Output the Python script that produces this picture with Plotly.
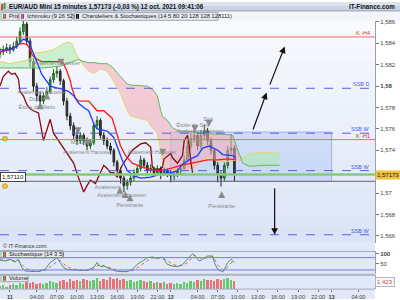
import numpy as np
import pandas as pd
import plotly.graph_objects as go

BASE = pd.Timestamp("2021-10-11 00:00")

# ---------------- data ----------------
candle_time = pd.date_range("2021-10-10 22:30", periods=71, freq="30min")
opens = [1.5830,1.5832,1.5834,1.5836,1.5834,1.5837,1.5842,1.5851,1.5858,1.5842,
         1.5823,1.5800,1.5791,1.5786,1.5791,1.5795,1.5806,1.5812,1.5814,1.5805,
         1.5786,1.5772,1.5763,1.5754,1.5749,1.5754,1.5749,1.5744,1.5747,1.5763,
         1.5768,1.5754,1.5749,1.5744,1.5740,1.5729,1.5721,1.5714,1.5707,1.5710,
         1.5714,1.5719,1.5723,1.5731,1.5726,1.5721,1.5723,1.5719,1.5723,1.5719,
         1.5721,1.5719,1.5716,1.5718,1.5721,1.5723,1.5731,1.5744,1.5751,1.5754,
         1.5744,1.5754,1.5758,1.5749,1.5740,1.5726,1.5717,1.5714,1.5726,1.5740,
         1.5742]
closes = [1.5832,1.5834,1.5836,1.5834,1.5837,1.5842,1.5851,1.5858,1.5842,1.5823,
          1.5800,1.5791,1.5786,1.5791,1.5795,1.5806,1.5812,1.5814,1.5805,1.5786,
          1.5772,1.5763,1.5754,1.5749,1.5754,1.5749,1.5744,1.5747,1.5763,1.5768,
          1.5754,1.5749,1.5744,1.5740,1.5729,1.5721,1.5714,1.5707,1.5710,1.5714,
          1.5719,1.5723,1.5731,1.5726,1.5721,1.5723,1.5719,1.5723,1.5719,1.5721,
          1.5719,1.5716,1.5718,1.5721,1.5723,1.5731,1.5744,1.5751,1.5754,1.5744,
          1.5754,1.5758,1.5749,1.5740,1.5726,1.5717,1.5714,1.5726,1.5740,1.5742,
          1.57173]
highs = [1.5836,1.5838,1.5840,1.5839,1.5841,1.5846,1.5855,1.5863,1.5860,1.5845,
         1.5826,1.5803,1.5795,1.5794,1.5799,1.5809,1.5816,1.5818,1.5816,1.5807,
         1.5789,1.5775,1.5766,1.5758,1.5757,1.5756,1.5752,1.5750,1.5766,1.5772,
         1.5770,1.5757,1.5752,1.5747,1.5742,1.5731,1.5724,1.5716,1.5713,1.5717,
         1.5722,1.5726,1.5735,1.5733,1.5729,1.5727,1.5725,1.5726,1.5725,1.5724,
         1.5723,1.5722,1.5721,1.5724,1.5727,1.5735,1.5748,1.5756,1.5760,1.5757,
         1.5759,1.5764,1.5761,1.5752,1.5742,1.5729,1.5720,1.5729,1.5744,1.5755,
         1.5745]
lows = [1.5826,1.5829,1.5831,1.5830,1.5832,1.5835,1.5840,1.5848,1.5838,1.5818,
        1.5795,1.5786,1.5781,1.5783,1.5788,1.5793,1.5803,1.5808,1.5801,1.5782,
        1.5768,1.5759,1.5750,1.5745,1.5746,1.5745,1.5740,1.5741,1.5745,1.5760,
        1.5751,1.5745,1.5741,1.5736,1.5725,1.5717,1.5709,1.5701,1.5703,1.5707,
        1.5711,1.5716,1.5720,1.5723,1.5718,1.5719,1.5715,1.5717,1.5713,1.5716,
        1.5715,1.5710,1.5712,1.5715,1.5718,1.5721,1.5729,1.5741,1.5747,1.5740,
        1.5741,1.5750,1.5745,1.5736,1.5722,1.5710,1.5706,1.5711,1.5723,1.5736,
        1.5711]
volumes = [520,700,380,690,880,720,1060,900,1240,1050,
           1230,880,1060,900,1070,1400,1250,1080,1420,1600,
           1250,1780,1420,1610,1430,1780,1600,1420,1590,1960,
           1430,1770,1600,2140,1780,1950,1600,1780,1420,1600,
           1250,1420,1600,1430,1250,1420,1070,1250,1060,1250,
           900,1070,880,1070,890,1250,1060,1420,1250,1600,
           1430,1780,1600,1610,1420,1780,1600,1770,1960,1600,
           1423]

# Ichimoku (hours since 11 oct 00:00, price)
tenkan_h = [-1.5,0,1.0,2.0,2.75,3.25,4.0,4.75,6.0,7.25,8.0,8.75,9.5,10.25,11.0,11.75,12.5,13.0,14.5,15.5,
            16.0,16.75,17.5,18.5,19.5,21.0,22.5,24.0,25.0,25.75,27.0,28.0,28.75,29.75,31.0,31.75,33.25,33.75]
tenkan = [1.5834,1.5834,1.5837,1.5844,1.5842,1.5835,1.5823,1.5811,1.5800,1.5798,1.5797,1.5795,1.5791,1.5784,
          1.5780,1.5777,1.5765,1.5760,1.5758,1.5752,1.5744,1.5731,1.5721,1.5716,1.5714,1.5715,1.5718,1.5719,
          1.5721,1.5727,1.5732,1.5735,1.5742,1.5744,1.5740,1.5736,1.5735,1.5733]
kijun_h = [-1.5,0.5,1.25,2.0,2.5,3.0,3.25,3.75,4.75,7.5,8.0,8.5,9.0,9.25,9.75,10.25,11.75,12.5,13.0,14.0,
           14.5,15.25,15.5,16.0,16.5,17.25,18.25,19.5,21.0,22.5,24.0,25.5,27.25,29.5,31.0,32.5,33.75]
kijun = [1.5832,1.5835,1.5839,1.5840,1.5839,1.5835,1.5830,1.5826,1.5823,1.5823,1.5821,1.5814,1.5805,1.5798,
         1.5789,1.5786,1.5786,1.5780,1.5777,1.5777,1.5774,1.5770,1.5765,1.5754,1.5744,1.5735,1.5728,1.5725,
         1.5722,1.5721,1.5723,1.5726,1.5728,1.5731,1.5731,1.5732,1.5731]
chikou_h = [-1.5,-1.0,-0.25,0.25,0.75,1.25,1.5,2.0,2.5,3.0,3.5,4.25,5.0,5.5,6.0,6.5,7.25,8.0,8.75,9.5,
            10.25,11.0,11.5,12.0,12.75,13.5,14.0,14.5,15.0,15.5,16.0,16.75,17.5,18.25,19.5,20.25,21.0,21.25,
            22.0,22.75,23.0,24.0,24.25,25.0,25.75,26.0,26.5,26.75,27.0,27.25]
chikou = [1.5800,1.5809,1.5814,1.5811,1.5812,1.5807,1.5795,1.5791,1.5783,1.5779,1.5777,1.5775,1.5749,1.5758,
          1.5769,1.5756,1.5749,1.5743,1.5735,1.5728,1.5714,1.5701,1.5707,1.5712,1.5709,1.5719,1.5726,1.5723,
          1.5719,1.5719,1.5715,1.5726,1.5733,1.5740,1.5746,1.5747,1.5743,1.5724,1.5721,1.5724,1.5732,1.5737,
          1.5733,1.5728,1.5735,1.5749,1.5754,1.5744,1.5729,1.5719]
span_h = [-1.5,0,1.5,3,3.5,5,6.5,7.75,8.5,9.25,9.75,10.25,11,11.75,12.5,13.5,14.5,15.25,16.5,17.5,
          18,19.5,20.5,21.25,22,22.5,22.75,23.5,24.25,25.25,26.5,27.25,28.25,29.5,30.5,32,33.25,34,34.75,
          35.75,38,40.25]
span_a = [1.5823,1.5821,1.5823,1.5825,1.5831,1.5832,1.5834,1.5839,1.5841,1.5840,1.5832,1.5826,1.5819,1.5814,
          1.5812,1.5816,1.5814,1.5807,1.5793,1.5777,1.5772,1.5770,1.5768,1.5761,1.5756,1.5740,1.5728,1.5723,
          1.5721,1.5721,1.5721,1.5723,1.5728,1.5733,1.5731,1.5729,1.5730,1.5731,1.5733,1.5737,1.5738,1.5737]
span_b = [1.5817,1.5817,1.5817,1.5817,1.5817,1.5817,1.5818,1.5819,1.5821,1.5823,1.5824,1.5825,1.5823,1.5822,
          1.5822,1.5821,1.5821,1.5818,1.5809,1.5802,1.5801,1.5800,1.5800,1.5797,1.5791,1.5777,1.5772,1.5768,
          1.5761,1.5758,1.5758,1.5757,1.5756,1.5756,1.5755,1.5755,1.5754,1.5740,1.5728,1.5725,1.5726,1.5726]

# Stochastic (14 3 5)
stoch_h = [-1.5,-0.75,0,0.75,1.25,1.75,2.25,3,3.75,4.5,5.25,6,7,7.5,8,8.5,9.5,10.5,11.5,12.5,
           13,13.5,14,14.5,15,15.75,16.5,17.5,18.25,19,19.75,20.5,21.25,22,22.75,23.5,24.25,25,25.75,26.5,
           27.25,27.5,28.25,28.75,29.5,30.25,30.5,31,31.75,32,32.5,33,33.5]
stoch_k = [72,63,72,58,72,33,15,12,12,15,23,56,80,56,32,23,20,18,18,32,56,36,39,32,27,15,12,12,23,47,
           63,80,83,76,83,47,39,36,47,72,99,92,63,72,88,88,56,23,10,23,56,72,56]
stoch_d = [68,66,68,64,66,50,30,18,13,13,18,35,60,66,50,35,24,20,19,24,40,45,40,36,32,22,15,13,16,30,
           48,65,78,80,80,65,48,40,42,55,80,92,80,75,80,86,75,45,22,16,35,55,62]

# horizontal levels
level_names = ["K -H4", "SSB D", "SSB W", "K -H1", "SSB W", "SSB W"]
level_values = [1.5846, 1.5798, 1.5756, 1.5750, 1.5721, 1.5661]
level_kind = ["K", "SSB", "SSB", "K", "SSB", "SSB"]
last_price = 1.57173
alert_price = 1.5711

# zone rectangle and arrows
zone_h = [24.0, 48.0]
zone_p = [1.5711, 1.5757]
arrow_from_h = [36.2, 38.7, 39.5]
arrow_from_p = [1.5758, 1.5800, 1.5706]
arrow_to_h = [38.3, 41.0, 39.5]
arrow_to_p = [1.5794, 1.5837, 1.5661]

# candlestick pattern labels
pat_text = ["Avalement Haussier", "Doji", "Étoile du Matin", "Avalement Baissier", "Marubozu",
            "Avalement Haussier", "Avalement", "Avalement Haussier", "Pénétrante", "Avalement Haussier",
            "Étoile du Soir", "Avalement Baissier", "Doji", "Pénétrante"]
pat_h = [4.8, 3.6, 4.0, 7.0, 10.9, 11.6, 14.6, 16.7, 17.9, 21.2, 27.3, 28.4, 29.6, 31.6]
pat_p = [1.5794, 1.5787, 1.5780, 1.5821, 1.5747, 1.5738, 1.5705, 1.5698, 1.5688, 1.5738, 1.5763, 1.5757, 1.5769, 1.5687]
mark_h = [1.8, 5.5, 4.5, 7.6, 10.15, 11.6, 16.4, 17.2, 17.9, 22.8, 27.6, 29.7, 31.6]
mark_p = [1.5860, 1.5794, 1.5785, 1.5819, 1.5755, 1.5744, 1.5706, 1.5702, 1.5699, 1.5735, 1.5757, 1.5762, 1.5702]
mark_dir = ["down", "up", "up", "down", "down", "down", "up", "up", "up", "down", "down", "down", "up"]

# axis ticks
price_ticks = [1.566, 1.568, 1.570, 1.572, 1.574, 1.576, 1.578, 1.580, 1.582, 1.584, 1.586]
price_tick_text = ["1,566", "1,568", "1,57", "", "1,574", "1,576", "1,578", "<b>1,58</b>", "1,582", "1,584", "1,586"]
time_ticks_h = [0, 4, 7, 10, 13, 16, 19, 22, 24, 28, 31, 34, 37, 40, 43, 46, 48, 52]
time_tick_text = ["<b>11</b>", "04:00", "07:00", "10:00", "13:00", "16:00", "19:00", "22:00", "<b>12</b>",
                  "04:00", "07:00", "10:00", "13:00", "16:00", "19:00", "22:00", "<b>13</b>", "04:00"]


def hx(hours):
    return [BASE + pd.Timedelta(hours=float(h)) for h in hours]


W, H = 400, 300
PW = 375.0  # plot area width in px


def xp(px):
    return px / PW


def yp(py):
    return 1 - py / H


FONT = "Liberation Sans"
fig = go.Figure()

# ---- Ichimoku cloud ----
sa = np.array(span_a)
sb = np.array(span_b)
sx = hx(span_h)
fig.add_trace(go.Scatter(x=sx, y=sb, mode="lines", line=dict(width=0), hoverinfo="skip"))
fig.add_trace(go.Scatter(x=sx, y=np.maximum(sa, sb), mode="lines", line=dict(width=0),
                         fill="tonexty", fillcolor="rgba(170,235,170,0.55)", hoverinfo="skip"))
fig.add_trace(go.Scatter(x=sx, y=sb, mode="lines", line=dict(width=0), hoverinfo="skip"))
fig.add_trace(go.Scatter(x=sx, y=np.minimum(sa, sb), mode="lines", line=dict(width=0),
                         fill="tonexty", fillcolor="rgba(245,170,180,0.55)", hoverinfo="skip"))
fig.add_trace(go.Scatter(x=sx, y=sa, mode="lines", line=dict(color="#e2d56a", width=1)))
fig.add_trace(go.Scatter(x=sx, y=sb, mode="lines", line=dict(color="#62b862", width=1)))

# ---- candles ----
fig.add_trace(go.Candlestick(
    x=candle_time, open=opens, high=highs, low=lows, close=closes,
    increasing=dict(line=dict(color="#1f5f1f", width=1), fillcolor="#3fae3f"),
    decreasing=dict(line=dict(color="#222222", width=1), fillcolor="#444444"),
    whiskerwidth=0, hoverinfo="skip"))

# ---- ichimoku lines ----
fig.add_trace(go.Scatter(x=hx(chikou_h), y=chikou, mode="lines", line=dict(color="#8b0a0a", width=1.3)))
fig.add_trace(go.Scatter(x=hx(kijun_h), y=kijun, mode="lines", line=dict(color="#ff1a1a", width=1.3)))
fig.add_trace(go.Scatter(x=hx(tenkan_h), y=tenkan, mode="lines", line=dict(color="#1e3cff", width=1.3)))

# ---- pattern markers ----
fig.add_trace(go.Scatter(
    x=hx(mark_h), y=mark_p, mode="markers", cliponaxis=False,
    marker=dict(symbol=["arrow-up" if d == "up" else "arrow-down" for d in mark_dir],
                size=7, color="#8a8a8a", line=dict(width=0))))
fig.add_trace(go.Scatter(
    x=hx(pat_h), y=pat_p, mode="text", text=pat_text,
    textfont=dict(family=FONT, size=5.5, color="#8a8a8a")))

# ---- stochastic ----
fig.add_trace(go.Scatter(x=hx(stoch_h), y=stoch_d, mode="lines", xaxis="x2", yaxis="y2",
                         line=dict(color="#e85a5a", width=1, dash="dot")))
fig.add_trace(go.Scatter(x=hx(stoch_h), y=stoch_k, mode="lines", xaxis="x2", yaxis="y2",
                         line=dict(color="#3f9a5f", width=1)))

# ---- volume ----
vcol = ["#66c866" if c >= o else "#e87272" for o, c in zip(opens, closes)]
fig.add_trace(go.Bar(x=candle_time, y=volumes, marker=dict(color=vcol, line=dict(width=0)),
                     width=30 * 60 * 1000 * 0.55, xaxis="x3", yaxis="y3"))

shapes = []
annotations = []

# main panel gradient background
top = np.array([250, 251, 254.0])
bot = np.array([219, 228, 247.0])
nb = 16
for k in range(nb):
    f = (k + 0.5) / nb
    c = top + (bot - top) * f
    shapes.append(dict(type="rect", xref="x domain", yref="y domain", x0=0, x1=1,
                       y0=1 - (k + 1) / nb, y1=1 - k / nb + 0.001,
                       fillcolor="rgb(%d,%d,%d)" % tuple(c.astype(int)), line_width=0, layer="below"))
# lower strip background
shapes.append(dict(type="rect", xref="paper", yref="paper", x0=0, x1=1, y0=0, y1=yp(243),
                   fillcolor="#e1e8f7", line_width=0, layer="below"))

# header bar
shapes.append(dict(type="rect", xref="paper", yref="paper", x0=0, x1=xp(W), y0=yp(9), y1=1,
                   fillcolor="#c9d5e4", line_width=0, layer="below"))
shapes.append(dict(type="rect", xref="paper", yref="paper", x0=0, x1=xp(W), y0=yp(4), y1=1,
                   fillcolor="#dde4ee", line_width=0, layer="below"))
shapes.append(dict(type="line", xref="paper", yref="paper", x0=0, x1=xp(W), y0=yp(9), y1=yp(9),
                   line=dict(color="#8e9db3", width=1)))
shapes.append(dict(type="rect", xref="paper", yref="paper", x0=xp(1), x1=xp(3), y0=yp(8), y1=yp(2),
                   fillcolor="#e04040", line_width=0))
shapes.append(dict(type="rect", xref="paper", yref="paper", x0=xp(3.5), x1=xp(5.5), y0=yp(7), y1=yp(1),
                   fillcolor="#30a030", line_width=0))
annotations.append(dict(xref="paper", yref="paper", x=xp(7), y=yp(4.8), xanchor="left", yanchor="middle",
                        text="<b>EUR/AUD Mini 15 minutes 1,57173 (-0,03 %) 12 oct. 2021 09:41:06</b>",
                        showarrow=False, font=dict(family=FONT, size=6.3, color="#111")))
annotations.append(dict(xref="paper", yref="paper", x=xp(397), y=yp(4.8), xanchor="right", yanchor="middle",
                        text="<b>IT-Finance.com</b>", showarrow=False,
                        font=dict(family=FONT, size=6.3, color="#111")))

# legend row
shapes.append(dict(type="rect", xref="paper", yref="paper", x0=0, x1=xp(W), y0=yp(19), y1=yp(9.5),
                   fillcolor="#f3f5f9", line_width=0, layer="below"))
legend_boxes = [(1, 18, "Prix", ["#30a030", "#e04040"]),
                (19, 72, "Ichimoku (9 26 52)", ["#e04040", "#7a3fbf"]),
                (74, 218, "Chandeliers & Stochastiques (14 5 80 20 128 128 128111)", ["#111111", "#111111"])]
for x0, x1, txt, cols in legend_boxes:
    shapes.append(dict(type="rect", xref="paper", yref="paper", x0=xp(x0), x1=xp(x1), y0=yp(18.5), y1=yp(10.5),
                       fillcolor="#e6e9ef", line=dict(color="#a0a6b0", width=1)))
    shapes.append(dict(type="rect", xref="paper", yref="paper", x0=xp(x0 + 2), x1=xp(x0 + 3.5),
                       y0=yp(17), y1=yp(12), fillcolor=cols[0], line_width=0))
    shapes.append(dict(type="rect", xref="paper", yref="paper", x0=xp(x0 + 3.5), x1=xp(x0 + 5),
                       y0=yp(17), y1=yp(12), fillcolor=cols[1], line_width=0))
    annotations.append(dict(xref="paper", yref="paper", x=xp(x0 + 6), y=yp(14.5), xanchor="left",
                            yanchor="middle", text=txt, showarrow=False,
                            font=dict(family=FONT, size=5.8, color="#222")))

# zone rectangle
shapes.append(dict(type="rect", xref="x", yref="y", x0=hx([zone_h[0]])[0], x1=hx([zone_h[1]])[0],
                   y0=zone_p[0], y1=zone_p[1], fillcolor="rgba(120,160,245,0.22)",
                   line=dict(color="#9ab2ea", width=1), layer="below"))

# horizontal levels
for name, val, kind in zip(level_names, level_values, level_kind):
    col = "#f06a6a" if kind == "K" else "#5060e8"
    shapes.append(dict(type="line", xref="x domain", yref="y", x0=0, x1=1, y0=val, y1=val,
                       line=dict(color=col, width=1, dash="solid" if kind == "K" else "dash")))
    annotations.append(dict(xref="paper", yref="y", x=xp(372), y=val, xanchor="right", yanchor="bottom",
                            text=name, showarrow=False, yshift=-1,
                            font=dict(family=FONT, size=5.5, color="#e03030" if kind == "K" else "#4a58e0")))
shapes.append(dict(type="line", xref="x domain", yref="y", x0=0, x1=1, y0=last_price, y1=last_price,
                   line=dict(color="#84cc74", width=2.5)))
shapes.append(dict(type="line", xref="x domain", yref="y", x0=0, x1=1, y0=alert_price, y1=alert_price,
                   line=dict(color="#6a6a6a", width=1)))

# arrows
for fh, fp, th, tp in zip(arrow_from_h, arrow_from_p, arrow_to_h, arrow_to_p):
    annotations.append(dict(xref="x", yref="y", axref="x", ayref="y",
                            x=hx([th])[0], y=tp, ax=hx([fh])[0], ay=fp, text="", showarrow=True,
                            arrowhead=2, arrowsize=1.1, arrowwidth=1.2, arrowcolor="#111"))

# price labels
annotations.append(dict(xref="paper", yref="y", x=1.0, y=last_price, xanchor="left", yanchor="middle",
                        text="1,57173", showarrow=False, bgcolor="#f2c23a", borderpad=1,
                        font=dict(family=FONT, size=6, color="#111")))
annotations.append(dict(xref="paper", yref="y", x=0.0, y=alert_price, xanchor="left", yanchor="middle",
                        yshift=4, text="1,57110", showarrow=False, bgcolor="#ffffff", bordercolor="#444",
                        borderwidth=1, borderpad=1, font=dict(family=FONT, size=6, color="#111")))
for py in (138, 186):
    shapes.append(dict(type="circle", xref="paper", yref="paper", x0=xp(2.5), x1=xp(7.5),
                       y0=yp(py + 2.5), y1=yp(py - 2.5), fillcolor="#f2c62a",
                       line=dict(color="#a88410", width=0.6)))

# lower panels decorations
annotations.append(dict(xref="paper", yref="paper", x=xp(1), y=yp(246.5), xanchor="left", yanchor="middle",
                        text="© IT-Finance.com", showarrow=False, font=dict(family=FONT, size=5.5, color="#333")))
for x0, x1, y0, y1, txt in [(1, 63, 251, 258.5, "Stochastique (14 3 5)"), (1, 28, 275.5, 282.5, "Volume")]:
    shapes.append(dict(type="rect", xref="paper", yref="paper", x0=xp(x0), x1=xp(x1), y0=yp(y1), y1=yp(y0),
                       fillcolor="#e6e9ef", line=dict(color="#a0a6b0", width=1)))
    shapes.append(dict(type="rect", xref="paper", yref="paper", x0=xp(x0 + 2), x1=xp(x0 + 3.5),
                       y0=yp(y1 - 1), y1=yp(y0 + 1), fillcolor="#2f9a3f", line_width=0))
    shapes.append(dict(type="rect", xref="paper", yref="paper", x0=xp(x0 + 3.5), x1=xp(x0 + 5),
                       y0=yp(y1 - 1), y1=yp(y0 + 1), fillcolor="#d83a3a", line_width=0))
    annotations.append(dict(xref="paper", yref="paper", x=xp(x0 + 6), y=yp((y0 + y1) / 2), xanchor="left",
                            yanchor="middle", text=txt, showarrow=False,
                            font=dict(family=FONT, size=5.8, color="#222")))
for lvl in (80, 20):
    shapes.append(dict(type="line", xref="x2 domain", yref="y2", x0=0, x1=1, y0=lvl, y1=lvl,
                       line=dict(color="#7a7ae8", width=1)))
for yr in ("y2 domain", "y3 domain"):
    for v in (0, 1):
        shapes.append(dict(type="line", xref="paper", yref=yr, x0=0, x1=1, y0=v, y1=v,
                           line=dict(color="#a4acbc", width=1)))
annotations.append(dict(xref="paper", yref="y3", x=1.0, y=volumes[-1], xanchor="left", yanchor="middle",
                        text="1 423", showarrow=False, bgcolor="#f4f6fa", bordercolor="#b0b6c4",
                        borderwidth=1, borderpad=1, font=dict(family=FONT, size=6, color="#d05050")))

xr = hx([-1.49, 54.48])
axis_font = dict(family=FONT, size=6, color="#444")
fig.update_layout(
    width=W, height=H, margin=dict(l=0, r=W - PW, t=0, b=0),
    paper_bgcolor="#ffffff", plot_bgcolor="#e1e8f7", showlegend=False, hovermode=False,
    font=dict(family=FONT, size=6, color="#333"),
    shapes=shapes, annotations=annotations, bargap=0,
    xaxis=dict(domain=[0, 1], anchor="y", type="date", range=xr, showticklabels=False, showgrid=False,
               zeroline=False, rangeslider=dict(visible=False), fixedrange=True),
    xaxis2=dict(domain=[0, 1], anchor="y2", type="date", matches="x", showticklabels=False,
                showgrid=False, zeroline=False),
    xaxis3=dict(domain=[0, 1], anchor="y3", type="date", matches="x", showgrid=False, zeroline=False,
                tickmode="array", tickvals=hx(time_ticks_h), ticktext=time_tick_text, tickangle=0,
                ticks="outside", ticklen=2, tickcolor="#777",
                tickfont=dict(family=FONT, size=5.6, color="#444")),
    yaxis=dict(domain=[yp(243), yp(19)], anchor="x", side="right", range=[1.56537, 1.58611],
               tickmode="array", tickvals=price_ticks, ticktext=price_tick_text, ticks="outside",
               ticklen=3, tickcolor="#777", tickfont=axis_font, showgrid=False, zeroline=False,
               showline=True, linecolor="#9aa0aa", linewidth=1),
    yaxis2=dict(domain=[yp(275), yp(252)], anchor="x2", side="right", range=[-1, 110],
                tickmode="array", tickvals=[50, 100], ticktext=["50", "<b>100</b>"], ticks="outside",
                ticklen=3, tickcolor="#777", tickfont=axis_font, showgrid=False, zeroline=False,
                showline=True, linecolor="#9aa0aa"),
    yaxis3=dict(domain=[yp(290), yp(276)], anchor="x3", side="right", range=[0, 2600],
                showticklabels=False, showgrid=False, zeroline=False, showline=True, linecolor="#9aa0aa"),
)

fig.write_html("out.html")
